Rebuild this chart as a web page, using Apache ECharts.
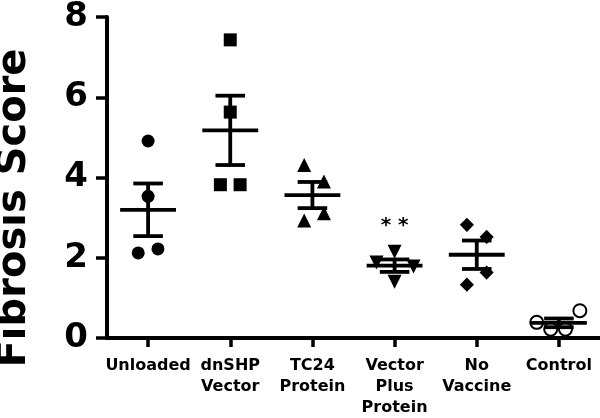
<!DOCTYPE html>
<html><head><meta charset="utf-8">
<script src="https://cdn.jsdelivr.net/npm/echarts@6/dist/echarts.min.js"></script>
<style>html,body{margin:0;padding:0;background:#fff}#c{width:600px;height:418px}</style>
</head><body><div id="c"></div>
<script>
const categories = ['Unloaded', 'dnSHP\nVector', 'TC24\nProtein', 'Vector\nPlus\nProtein', 'No\nVaccine', 'Control'];
const unloaded = [4.91, 3.53, 2.12, 2.22];
const dnshpVector = [7.43, 5.63, 3.82, 3.82];
const tc24Protein = [4.31, 3.90, 3.11, 2.93];
const vectorPlusProtein = [2.15, 1.40, 1.88, 1.78];
const noVaccine = [2.82, 2.52, 1.63, 1.33];
const control = [0.68, 0.39, 0.22, 0.22];
const groups = [unloaded, dnshpVector, tc24Protein, vectorPlusProtein, noVaccine, control];
const yTicks = [0, 2, 4, 6, 8];
const significance = ['', '', '', '* *', '', ''];
// horizontal spread of overlapping points, in category widths
const jitter = [
  [0, 0, -0.12, 0.12],
  [0, 0, -0.12, 0.12],
  [-0.1, 0.14, 0.14, -0.1],
  [0, 0, -0.22, 0.23],
  [-0.12, 0.12, 0.12, -0.12],
  [0.255, -0.27, -0.1, 0.08]
];

const FONT = '"DejaVu Sans", "Liberation Sans", Arial, sans-serif';
const symbols = ['circle', 'rect', 'triangle', 'triangle', 'rect', 'emptyCircle'];
const rotates = [0, 0, 0, 180, 45, 0];
const sizes = [13, 13, 14, 14, 10, 13];

function mean(a) { return a.reduce((s, v) => s + v, 0) / a.length; }
function sem(a) {
  const m = mean(a);
  const v = a.reduce((s, x) => s + (x - m) * (x - m), 0) / (a.length - 1);
  return Math.sqrt(v) / Math.sqrt(a.length);
}
const stats = groups.map((g, i) => [i, mean(g), sem(g)]);

const scatterSeries = groups.map((g, i) => {
  const maxIdx = g.indexOf(Math.max.apply(null, g));
  return {
    type: 'scatter',
    xAxisIndex: 1,
    symbol: symbols[i],
    symbolSize: sizes[i],
    symbolRotate: rotates[i],
    itemStyle: i === 5 ? { color: '#000', borderColor: '#000', borderWidth: 3, opacity: 1 } : { color: '#000', opacity: 1 },
    emphasis: { disabled: true },
    z: 2,
    data: g.map((v, j) => {
      const item = { value: [i + jitter[i][j], v] };
      if (j === maxIdx && significance[i]) {
        item.label = {
          show: true, position: 'top', distance: 9, formatter: significance[i],
          color: '#000', fontFamily: FONT, fontWeight: 'bold', fontSize: 20
        };
      }
      return item;
    })
  };
});

const errorSeries = {
  type: 'custom',
  xAxisIndex: 1,
  z: 5,
  data: stats,
  renderItem: function (params, api) {
    const x = api.value(0), m = api.value(1), s = api.value(2);
    const lw = 3.8;
    const st = { stroke: '#000', lineWidth: lw, fill: null };
    const mk = (a, b) => ({ type: 'line', shape: { x1: a[0], y1: a[1], x2: b[0], y2: b[1] }, style: st });
    const hi = m + s, lo = m - s;
    return {
      type: 'group',
      children: [
        mk(api.coord([x - 0.34, m]), api.coord([x + 0.34, m])),
        mk(api.coord([x, lo]), api.coord([x, hi])),
        mk(api.coord([x - 0.18, hi]), api.coord([x + 0.18, hi])),
        mk(api.coord([x - 0.18, lo]), api.coord([x + 0.18, lo]))
      ]
    };
  }
};

const chart = echarts.init(document.getElementById('c'), null, { renderer: 'canvas' });
chart.setOption({
  backgroundColor: '#fff',
  animation: false,
  grid: { left: 107, right: 0, top: 13, bottom: 76, containLabel: false },
  xAxis: [
    {
      type: 'category', data: categories, boundaryGap: true,
      axisLine: { show: true, onZero: false, lineStyle: { color: '#000', width: 4 } },
      axisTick: { show: true, alignWithLabel: true, length: 9, lineStyle: { color: '#000', width: 3.5 } },
      axisLabel: { interval: 0, margin: 17, color: '#000', fontFamily: FONT, fontWeight: 'bold', fontSize: 16, lineHeight: 21 },
      splitLine: { show: false }
    },
    { type: 'value', min: -0.5, max: 5.5, show: false }
  ],
  yAxis: {
    type: 'value', min: yTicks[0], max: yTicks[yTicks.length - 1], interval: yTicks[1] - yTicks[0],
    axisLine: { show: true, onZero: false, lineStyle: { color: '#000', width: 4 } },
    axisTick: { show: true, length: 11, lineStyle: { color: '#000', width: 3.5 } },
    axisLabel: { margin: 19, color: '#000', fontFamily: FONT, fontWeight: 'bold', fontSize: 34 },
    splitLine: { show: false }
  },
  graphic: [{
    type: 'text', x: 15, y: 208, rotation: Math.PI / 2,
    style: {
      text: 'Fibrosis Score', font: 'bold 40px ' + FONT, fill: '#000',
      align: 'center', verticalAlign: 'middle', textAlign: 'center', textVerticalAlign: 'middle'
    }
  }],
  series: scatterSeries.concat([errorSeries])
});
</script>
</body></html>
